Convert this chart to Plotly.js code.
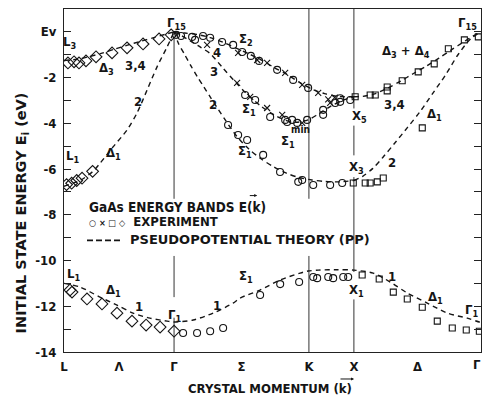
<!DOCTYPE html>
<html><head><meta charset="utf-8">
<script src="https://cdn.plot.ly/plotly-3.0.1.min.js"></script>
<style>html,body{margin:0;padding:0;background:#fff}#plot{width:482px;height:398px}</style>
</head><body><div id="plot"></div>
<script>
// High-symmetry points (k in units of 2pi/a, path length)
const symK = [0, 0.433, 0.866, 1.397, 1.927, 2.281, 2.781];
const symLabels = ['L', 'Λ', 'Γ', 'Σ', 'K', 'X', 'Δ'];
const endLabel = 'Γ';
const yTicks = [0,-1,-2,-3,-4,-5,-6,-7,-8,-9,-10,-11,-12,-13,-14];
const yTickText = ['Ev','','-2','','-4','','-6','','-8','','-10','','-12','','-14'];

// Pseudopotential theory curves
const thLam3K = [0, 0.1, 0.2, 0.3, 0.4, 0.5, 0.6, 0.7, 0.8, 0.866];
const thLam3E = [-1.25, -1.2, -1.08, -0.93, -0.75, -0.58, -0.42, -0.26, -0.1, 0];
const thLam1K = [0, 0.126, 0.228, 0.283, 0.386, 0.496, 0.575, 0.654, 0.732, 0.811, 0.866];
const thLam1E = [-6.75, -6.5, -6.1, -5.75, -5.03, -4.29, -3.54, -2.54, -1.53, -0.66, 0];
const thSig2K = [0.866, 0.95, 1.05, 1.15, 1.25, 1.35, 1.45, 1.55, 1.65, 1.75, 1.85, 1.95, 2.05, 2.15, 2.281];
const thSig2E = [0, -0.05, -0.12, -0.25, -0.45, -0.7, -0.95, -1.22, -1.55, -1.85, -2.2, -2.5, -2.7, -2.82, -2.84];
const thSig1mK = [0.866, 0.913, 1.0, 1.071, 1.15, 1.25, 1.35, 1.45, 1.55, 1.65, 1.75, 1.83, 1.92, 2.0, 2.1, 2.2, 2.281];
const thSig1mE = [0, -0.13, -0.42, -0.66, -0.95, -1.58, -2.2, -2.78, -3.25, -3.62, -3.88, -3.95, -3.85, -3.6, -3.25, -2.98, -2.84];
const thSig1lK = [0.866, 0.9, 0.95, 1.0, 1.05, 1.1, 1.15, 1.2, 1.27, 1.36, 1.45, 1.55, 1.65, 1.75, 1.85, 1.95, 2.05, 2.17, 2.281];
const thSig1lE = [0, -0.5, -1.0, -1.5, -1.97, -2.4, -2.84, -3.27, -3.86, -4.57, -5.1, -5.55, -5.9, -6.18, -6.37, -6.48, -6.54, -6.56, -6.5];
const thDel1K = [2.281, 2.35, 2.43, 2.51, 2.6, 2.7, 2.8, 2.9, 3.0, 3.1, 3.2, 3.281];
const thDel1E = [-6.5, -6.32, -5.97, -5.48, -4.88, -4.2, -3.5, -2.7, -1.9, -1.0, -0.3, 0];
const thDel34K = [2.281, 2.35, 2.45, 2.55, 2.65, 2.75, 2.85, 2.95, 3.05, 3.15, 3.22, 3.281];
const thDel34E = [-2.84, -2.82, -2.7, -2.45, -2.15, -1.82, -1.5, -1.15, -0.78, -0.42, -0.18, 0];
const thLowK = [0, 0.126, 0.283, 0.417, 0.543, 0.677, 0.811, 0.866, 1.016, 1.173, 1.331, 1.386, 1.543, 1.701, 1.858, 1.921, 2.0, 2.15, 2.281, 2.433, 2.567, 2.701, 2.858, 3.016, 3.173, 3.268, 3.281];
const thLowE = [-11.0, -11.16, -11.6, -11.95, -12.3, -12.52, -12.65, -12.69, -12.6, -12.3, -11.86, -11.64, -11.29, -10.85, -10.55, -10.46, -10.42, -10.4, -10.42, -10.55, -10.94, -11.42, -11.86, -12.3, -12.52, -12.69, -12.7];

// Experiment: diamonds (L-Gamma)
const dmK = [0.031, 0.079, 0.118, 0.173, 0.252, 0.378, 0.496, 0.622, 0.748, 0.843,
             0.02, 0.06, 0.10, 0.142, 0.225,
             0.047, 0.063, 0.181, 0.299, 0.417, 0.535, 0.646, 0.756, 0.866];
const dmE = [-1.36, -1.31, -1.36, -1.27, -1.09, -0.92, -0.70, -0.53, -0.31, -0.13,
             -6.68, -6.62, -6.5, -6.4, -6.1,
             -11.29, -11.38, -11.68, -11.90, -12.30, -12.65, -12.82, -12.91, -13.09];
// Experiment: circles (Gamma-K-X)
const ciK = [0.882, 0.921,
             1.008, 1.031, 1.094, 1.150, 1.244, 1.331, 1.402, 1.47, 1.535, 1.677, 1.803, 1.921, 2.173,
             1.425, 1.504, 1.622, 1.740, 1.756, 1.795, 1.835, 1.913, 2.039, 2.039, 2.134, 2.173, 2.252,
             1.291, 1.370, 1.441, 1.567, 1.70, 1.843, 1.874, 1.961, 2.094, 2.189,
             0.937, 1.047, 1.150, 1.252, 1.543, 1.701, 1.850, 1.961, 1.992, 2.079, 2.118, 2.197, 2.236];
const ciE = [-0.13, -0.18,
             -0.22, -0.35, -0.18, -0.26, -0.44, -0.57, -0.88, -1.05, -1.27, -1.66, -2.10, -2.45, -2.90,
             -2.76, -2.98, -3.72, -3.85, -3.94, -3.85, -3.98, -3.85, -3.63, -3.41, -3.11, -3.06, -2.98,
             -4.07, -4.51, -4.73, -5.38, -6.13, -6.56, -6.48, -6.70, -6.70, -6.61,
             -13.17, -13.17, -13.09, -12.95, -11.51, -11.03, -10.94, -10.72, -10.77, -10.72, -10.77, -10.72, -10.72];
// Experiment: crosses (Sigma)
const xsK = [1.126, 1.370, 1.520, 1.598, 1.740, 1.874, 2.0, 2.079, 2.13,
             1.362, 1.465, 1.598, 1.717, 1.874, 2.094];
const xsE = [-0.57, -0.92, -1.23, -1.36, -1.79, -2.32, -2.67, -2.95, -2.88,
             -2.23, -2.84, -3.33, -3.63, -3.98, -3.11];
// Experiment: squares (X-Gamma)
const sqK = [2.291, 2.409, 2.449, 2.543, 2.543, 2.661, 2.787, 2.913, 3.024, 3.150, 3.260,
             2.819,
             2.276, 2.370, 2.409, 2.465, 2.512,
             2.346, 2.480, 2.591, 2.701, 2.819, 2.937, 3.055, 3.165, 3.268];
const sqE = [-2.84, -2.76, -2.76, -2.41, -2.58, -2.14, -1.75, -1.40, -0.74, -0.35, -0.22,
             -4.20,
             -6.61, -6.61, -6.61, -6.56, -6.39,
             -10.63, -10.81, -11.38, -11.68, -12.04, -12.65, -12.95, -13.04, -13.09];

const ink = '#151515';
const dashLine = {color: ink, width: 1.4, dash: '5px,4px', shape: 'spline', smoothing: 0.8};
function theory(x, y) { return {x: x, y: y, mode: 'lines', line: dashLine, hoverinfo: 'skip', showlegend: false}; }
function expt(x, y, sym, size) {
  return {x: x, y: y, mode: 'markers', showlegend: false, hoverinfo: 'skip',
          marker: {symbol: sym, size: size, color: ink, line: {color: ink, width: 1.1}}};
}
const traces = [
  theory(thLam3K, thLam3E), theory(thLam1K, thLam1E), theory(thSig2K, thSig2E),
  theory(thSig1mK, thSig1mE), theory(thSig1lK, thSig1lE), theory(thDel1K, thDel1E),
  theory(thDel34K, thDel34E), theory(thLowK, thLowE),
  expt(dmK, dmE, 'diamond-open', 9), expt(ciK, ciE, 'circle-open', 7),
  expt(xsK, xsE, 'x-thin-open', 6), expt(sqK, sqE, 'square-open', 6)
];

// vertical symmetry lines (with gaps under labels / legend)
const vsegs = [[0.866, -0.2, -7.3], [0.866, -9.8, -11.6], [0.866, -12.5, -14],
               [1.927, 1, -7.3], [1.927, -9.8, -14],
               [2.281, 1, -3.35], [2.281, -4.1, -5.4], [2.281, -6.35, -10.5], [2.281, -11.7, -14]];
const shapes = vsegs.map(s => ({type: 'line', xref: 'x', yref: 'y', x0: s[0], x1: s[0], y0: s[1], y1: s[2],
  layer: 'below', line: {color: '#333', width: 1}}));
// legend dash sample
shapes.push({type: 'line', xref: 'x', yref: 'y', x0: 0.181, x1: 0.457, y0: -9.12, y1: -9.12,
  line: {color: ink, width: 1.6, dash: '6px,3px'}});

const F = 'DejaVu Sans Condensed';
function lab(x, y, t, sz, opt) {
  return Object.assign({x: x, y: y, xref: 'x', yref: 'y', text: t, showarrow: false,
    font: {family: F, size: sz || 13, color: ink, weight: 'bold'}}, opt || {});
}
function vecArrow(xr, yr, x0, x1, y) {
  return {xref: xr, yref: yr, axref: xr, ayref: yr, x: x1, y: y, ax: x0, ay: y, text: '',
    showarrow: true, arrowhead: 2, arrowsize: 0.6, arrowwidth: 1, arrowcolor: ink};
}
const annotations = [
  lab(0.047, -0.48, 'L<sub>3</sub>'), lab(0.331, -1.58, 'Δ<sub>3</sub>'), lab(0.559, -1.49, '3,4'),
  lab(0.583, -3.06, '2'), lab(0.882, 0.38, 'Γ<sub>15</sub>'), lab(0.063, -5.47, 'L<sub>1</sub>'),
  lab(0.386, -5.30, 'Δ<sub>1</sub>'), lab(1.205, -0.92, '4'), lab(1.181, -1.75, '3'),
  lab(1.173, -3.19, '2'), lab(1.433, -0.35, 'Σ<sub>2</sub>'), lab(1.457, -3.41, 'Σ<sub>1</sub>'),
  lab(1.425, -5.21, 'Σ<sub>1</sub>'), lab(1.764, -4.81, 'Σ<sub>1</sub>'), lab(1.858, -4.25, 'min', 10),
  lab(2.323, -3.72, 'X<sub>5</sub>'), lab(2.598, -3.19, '3,4'), lab(2.299, -5.95, 'X<sub>3</sub>'),
  lab(2.583, -5.73, '2'), lab(2.913, -3.63, 'Δ<sub>1</sub>'), lab(2.693, -0.88, 'Δ<sub>3</sub> + Δ<sub>4</sub>'),
  lab(3.173, 0.38, 'Γ<sub>15</sub>'),
  lab(0.071, -10.59, 'L<sub>1</sub>'), lab(0.386, -11.29, 'Δ<sub>1</sub>'), lab(0.591, -11.99, '1'),
  lab(0.866, -12.39, 'Γ<sub>1</sub>'), lab(1.205, -11.95, '1'), lab(1.433, -10.68, 'Σ<sub>1</sub>'),
  lab(2.299, -11.33, 'X<sub>1</sub>'), lab(2.583, -10.68, '1'), lab(2.921, -11.60, 'Δ<sub>1</sub>'),
  lab(3.205, -12.17, 'Γ<sub>1</sub>'),
  // legend block
  lab(0.181, -7.66, 'GaAs ENERGY BANDS E(k)', 13.5, {xanchor: 'left'}),
  vecArrow('x', 'y', 1.45, 1.52, -7.16),
  lab(0.181, -8.31, '<span style="font-size:9px">○ × □ ◇</span>  EXPERIMENT', 13, {xanchor: 'left'}),
  {x: 0.504, y: -9.10, xref: 'x', yref: 'y', xanchor: 'left', showarrow: false,
   text: 'PSEUDOPOTENTIAL THEORY (PP)', font: {family: 'DejaVu Sans', size: 13, color: ink, weight: 'bold'}},
  // axis end label
  {xref: 'paper', yref: 'paper', x: 1.004, y: -0.01, xanchor: 'right', yanchor: 'top', showarrow: false,
   text: endLabel, font: {family: F, size: 13, color: ink, weight: 'bold'}},
  // axis titles
  {xref: 'paper', yref: 'paper', x: -0.1, y: 0.405, xanchor: 'center', yanchor: 'middle', textangle: -90, showarrow: false,
   text: 'INITIAL STATE ENERGY E<sub>i</sub> (eV)', font: {family: 'DejaVu Sans', size: 14.5, color: ink, weight: 'bold'}},
  {xref: 'paper', yref: 'paper', x: 0.494, y: -0.105, xanchor: 'center', yanchor: 'middle', showarrow: false,
   text: 'CRYSTAL MOMENTUM (k)', font: {family: F, size: 13, color: ink, weight: 'bold'}},
  vecArrow('paper', 'paper', 0.6595, 0.6955, -0.0787)
];

const layout = {
  width: 482, height: 398, margin: {l: 64, r: 1, t: 9, b: 46},
  paper_bgcolor: '#fff', plot_bgcolor: '#fff', showlegend: false,
  xaxis: {range: [0, 3.281], showgrid: false, zeroline: false, showline: true, mirror: true,
    linecolor: '#222', linewidth: 1, ticks: '', tickvals: symK, ticktext: symLabels,
    tickfont: {family: F, size: 13, color: ink, weight: 'bold'}, ticklabelstandoff: 2},
  yaxis: {range: [-14, 1], showgrid: false, zeroline: false, showline: true, mirror: 'ticks',
    linecolor: '#222', linewidth: 1, ticks: 'inside', ticklen: 7, tickcolor: '#222',
    tickvals: yTicks, ticktext: yTickText, ticklabelstandoff: 4,
    tickfont: {family: F, size: 13, color: ink, weight: 'bold'}},
  shapes: shapes, annotations: annotations
};
Plotly.newPlot('plot', traces, layout, {displayModeBar: false, staticPlot: true});
</script></body></html>
